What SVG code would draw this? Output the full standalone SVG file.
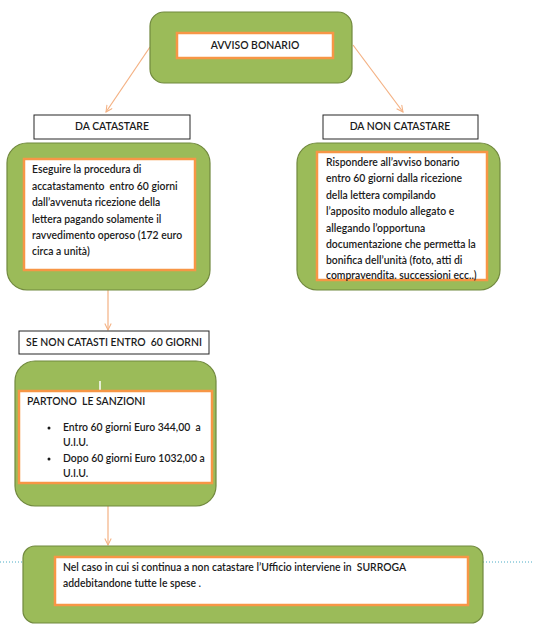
<svg xmlns="http://www.w3.org/2000/svg" width="534" height="640" viewBox="0 0 534 640">
<defs>
<style>
.g{fill:#9BBB59;stroke:#71893F;stroke-width:1.2}
.w{fill:#FFFFFF;stroke:#F79646;stroke-width:2.5}
.lb{fill:#FFFFFF;stroke:#262626;stroke-width:1}
.t{font-family:Lato,"Open Sans",sans-serif;font-size:10.4px;fill:#1a1a1a;font-weight:600;white-space:pre}
.c{stroke:#F4B183;stroke-width:1.2;fill:none}
</style>
<marker id="ah" viewBox="0 0 10 10" refX="9" refY="5" markerWidth="8" markerHeight="8" orient="auto" markerUnits="userSpaceOnUse">
<path d="M1,1 L9,5 L1,9" fill="none" stroke="#F4B183" stroke-width="1.3"/>
</marker>
</defs>
<rect width="534" height="640" fill="#FFFFFF"/>
<line x1="0" y1="562" x2="534" y2="562" stroke="#4BACC6" stroke-width="1" stroke-dasharray="1,2"/>
<g id="connectors">
<line class="c" x1="150" y1="47" x2="106" y2="112" marker-end="url(#ah)"/>
<line class="c" x1="353" y1="45" x2="403" y2="112" marker-end="url(#ah)"/>
<line class="c" x1="108" y1="290" x2="108" y2="330" marker-end="url(#ah)"/>
<line class="c" x1="108" y1="506" x2="108" y2="545" marker-end="url(#ah)"/>
</g>
<g id="avviso">
<rect class="g" x="150" y="12" width="202" height="71" rx="14"/>
<rect class="w" x="177" y="33" width="156" height="25"/>
<text class="t" x="255" y="49" text-anchor="middle">AVVISO BONARIO</text>
</g>
<g id="da-catastare">
<rect class="lb" x="34" y="115" width="156" height="24"/>
<text class="t" x="112" y="130" text-anchor="middle">DA CATASTARE</text>
</g>
<g id="da-non-catastare">
<rect class="lb" x="323" y="115" width="155" height="24"/>
<text class="t" x="400" y="130" text-anchor="middle">DA NON CATASTARE</text>
</g>
<g id="procedura">
<rect class="g" x="7" y="143" width="203" height="147" rx="20"/>
<rect class="w" x="24" y="159" width="171" height="111"/>
<text class="t" x="32" y="173">Eseguire la procedura di</text>
<text class="t" x="32" y="190">accatastamento  entro 60 giorni</text>
<text class="t" x="32" y="206">dall’avvenuta ricezione della</text>
<text class="t" x="32" y="223">lettera pagando solamente il</text>
<text class="t" x="32" y="239">ravvedimento operoso (172 euro</text>
<text class="t" x="32" y="255">circa a unità)</text>
</g>
<g id="rispondere">
<rect class="g" x="297" y="143" width="203" height="147" rx="20"/>
<rect class="w" x="317" y="152" width="170" height="128"/>
<text class="t" x="326" y="166">Rispondere all’avviso bonario</text>
<text class="t" x="326" y="182">entro 60 giorni dalla ricezione</text>
<text class="t" x="326" y="199">della lettera compilando</text>
<text class="t" x="326" y="215">l’apposito modulo allegato e</text>
<text class="t" x="326" y="232">allegando l’opportuna</text>
<text class="t" x="326" y="248">documentazione che permetta la</text>
<text class="t" x="326" y="264">bonifica dell’unità (foto, atti di</text>
<text class="t" x="326" y="279">compravendita. successioni ecc..)</text>
</g>
<g id="se-non-catasti">
<rect class="lb" x="19" y="331" width="190" height="23"/>
<text class="t" x="114" y="346" text-anchor="middle">SE NON CATASTI ENTRO  60 GIORNI</text>
</g>
<g id="sanzioni">
<rect class="g" x="15" y="361" width="201" height="145" rx="20"/>
<line x1="100" y1="381" x2="100" y2="391" stroke="#FFFFFF" stroke-width="1.5"/>
<rect class="w" x="19" y="391" width="193" height="92"/>
<text class="t" x="27" y="405">PARTONO  LE SANZIONI</text>
<circle cx="49" cy="428" r="1.5" fill="#1a1a1a"/>
<text class="t" x="63" y="431">Entro 60 giorni Euro 344,00  a</text>
<text class="t" x="63" y="446">U.I.U.</text>
<circle cx="49" cy="459" r="1.5" fill="#1a1a1a"/>
<text class="t" x="63" y="462">Dopo 60 giorni Euro 1032,00 a</text>
<text class="t" x="63" y="477">U.I.U.</text>
</g>
<g id="surroga">
<rect class="g" x="23" y="546" width="460" height="77" rx="12"/>
<rect class="w" x="55" y="557" width="413" height="48"/>
<text class="t" x="63" y="571">Nel caso in cui si continua a non catastare l’Ufficio interviene in  SURROGA</text>
<text class="t" x="63" y="587">addebitandone tutte le spese .</text>
</g>
</svg>
